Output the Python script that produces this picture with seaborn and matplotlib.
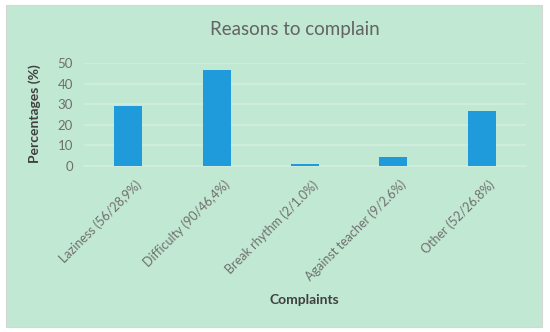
import matplotlib
matplotlib.use("Agg")
import matplotlib.pyplot as plt
import matplotlib.transforms as mtransforms
from matplotlib.patches import FancyBboxPatch
import seaborn as sns
import pandas as pd

categories = ["Laziness (56/28,9%)", "Difficulty (90/46,4%)", "Break rhythm (2/1.0%)",
              "Against teacher (9/2.6%)", "Other (52/26.8%)"]
percentages = [28.9, 46.4, 1.0, 4.3, 26.8]
yticks = [0, 10, 20, 30, 40, 50]

title = "Reasons to complain"
xlabel = "Complaints"
ylabel = "Percentages (%)"

BG = "#c1e8d2"
BAR = "#1f9bdb"
GRID = "#d1eedd"
TXT = "#6f6f6f"
LBL = "#404040"

sns.set_theme(style="white")
plt.rcParams['font.family'] = ['Lato', 'DejaVu Sans']

W, H = 550, 332
fig = plt.figure(figsize=(W / 100, H / 100), dpi=100)
fig.patch.set_facecolor("white")

# green panel
x0, y0, x1, y1 = 5.5, 5, 541.5, 327
panel = FancyBboxPatch((x0 / W, 1 - y1 / H), (x1 - x0) / W, (y1 - y0) / H,
                       boxstyle="square,pad=0", transform=fig.transFigure,
                       facecolor=BG, edgecolor="#d6d6d6", linewidth=0.8, zorder=-10)
fig.patches.append(panel)

left, right = 84, 526
top, bottom = 63, 166
ax = fig.add_axes([left / W, 1 - bottom / H, (right - left) / W, (bottom - top) / H])
ax.set_facecolor("none")
ax.set_zorder(1)

df = pd.DataFrame({"cat": categories, "pct": percentages})
sns.barplot(data=df, x="cat", y="pct", color=BAR, width=0.316, saturation=1,
            linewidth=0, ax=ax, zorder=3)

ax.set_xlim(-0.5, len(categories) - 0.5)
ax.set_ylim(0, 50)
ax.set_yticks(yticks)
ax.set_yticklabels([str(v) for v in yticks], color=TXT, fontsize=9.5)
ax.yaxis.grid(True, color=GRID, linewidth=1.2, zorder=0)
ax.xaxis.grid(False)
ax.set_axisbelow(True)
for s in ["top", "right", "left"]:
    ax.spines[s].set_visible(False)
ax.spines["bottom"].set_color(GRID)
ax.spines["bottom"].set_linewidth(1.2)
ax.tick_params(axis="y", length=0, pad=8)
ax.tick_params(axis="x", length=0, pad=4)

ax.set_xticks(range(len(categories)))
ax.set_xticklabels(categories, rotation=45, ha="right", va="center",
                   rotation_mode="anchor", color=TXT, fontsize=9)
offset = mtransforms.ScaledTranslation(11 / 100, -11 / 100, fig.dpi_scale_trans)
for lab in ax.get_xticklabels():
    lab.set_transform(lab.get_transform() + offset)

ax.set_xlabel("")
ax.set_ylabel("")
fig.text(304 / W, 1 - 300.5 / H, xlabel, ha="center", va="center",
         fontsize=10, fontweight="bold", color=LBL)
fig.text(35 / W, 1 - 113.5 / H, ylabel, ha="center", va="center", rotation=90,
         fontsize=10, fontweight="bold", color=LBL)
fig.text(295 / W, 1 - 30 / H, title, ha="center", va="center",
         fontsize=13.5, color="#636363")

fig.savefig("out.png", dpi=100, facecolor=fig.get_facecolor())
